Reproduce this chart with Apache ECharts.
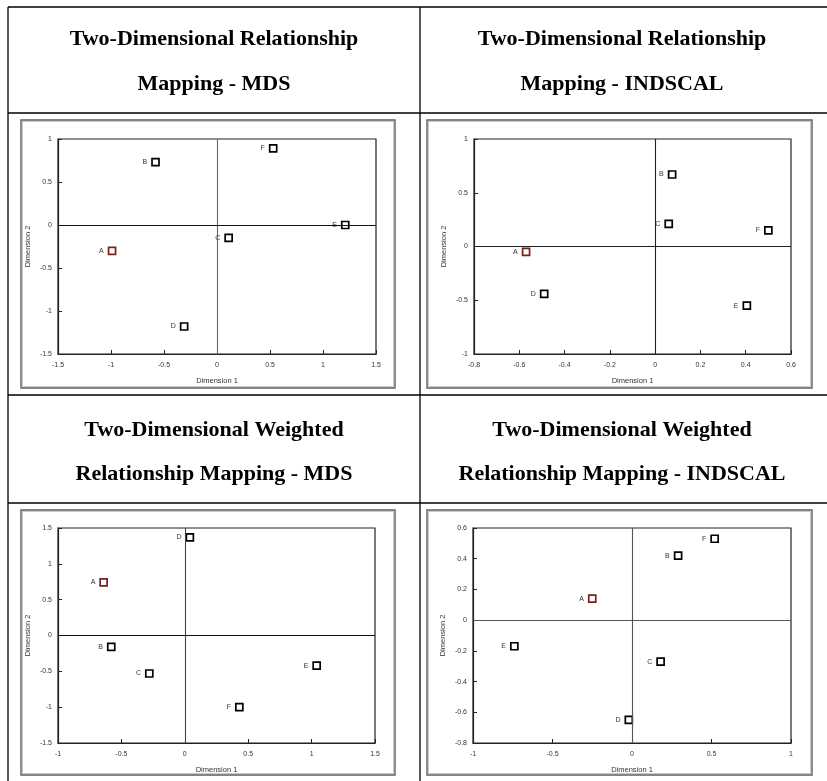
<!DOCTYPE html>
<html>
<head>
<meta charset="utf-8">
<script src="https://cdn.jsdelivr.net/npm/echarts@6/dist/echarts.min.js"></script>
<style>
  html, body { margin: 0; padding: 0; background: #fff; }
  #chart { width: 827px; height: 781px; }
</style>
</head>
<body>
<div id="chart"></div>
<script>
///////////////////////////////////////////////////
// Used data
///////////////////////////////////////////////////

var pointNames = ['A', 'B', 'C', 'D', 'E', 'F'];

// Two-Dimensional Relationship Mapping - MDS
var mdsX = [-0.99, -0.58, 0.11, -0.31, 1.21, 0.53];
var mdsY = [-0.30, 0.73, -0.15, -1.18, 0.00, 0.89];

// Two-Dimensional Relationship Mapping - INDSCAL
var indscalX = [-0.57, 0.075, 0.06, -0.49, 0.405, 0.50];
var indscalY = [-0.05, 0.67, 0.21, -0.44, -0.55, 0.15];

// Two-Dimensional Weighted Relationship Mapping - MDS
var weightedMdsX = [-0.64, -0.58, -0.28, 0.04, 1.04, 0.43];
var weightedMdsY = [0.74, -0.16, -0.53, 1.37, -0.42, -1.00];

// Two-Dimensional Weighted Relationship Mapping - INDSCAL
var weightedIndscalX = [-0.25, 0.29, 0.18, -0.02, -0.74, 0.52];
var weightedIndscalY = [0.14, 0.42, -0.27, -0.65, -0.17, 0.53];

var headerLines = [
  ['Two-Dimensional Relationship', 'Mapping - MDS'],
  ['Two-Dimensional Relationship', 'Mapping - INDSCAL'],
  ['Two-Dimensional Weighted', 'Relationship Mapping - MDS'],
  ['Two-Dimensional Weighted', 'Relationship Mapping - INDSCAL'],
];

// axis ranges: [min, max, interval]
var xRanges = [[-1.5, 1.5, 0.5], [-0.8, 0.6, 0.2], [-1, 1.5, 0.5], [-1, 1, 0.5]];
var yRanges = [[-1.5, 1, 0.5], [-1, 1, 0.5], [-1.5, 1.5, 0.5], [-0.8, 0.6, 0.2]];

var xAxisTitle = 'Dimension 1';
var yAxisTitle = 'Dimension 2';

///////////////////////////////////////////////////
// Layout
///////////////////////////////////////////////////

var plots = [
  { left: 58, top: 139, width: 318, height: 215 },
  { left: 474, top: 139, width: 317, height: 215 },
  { left: 58, top: 528, width: 317, height: 215 },
  { left: 473, top: 528, width: 318, height: 215 },
];
var frames = [
  { x: 21, y: 120, width: 374, height: 268 },
  { x: 427, y: 120, width: 385, height: 268 },
  { x: 21, y: 510, width: 374, height: 265 },
  { x: 427, y: 510, width: 385, height: 265 },
];
var headerPos = [
  { x: 214, y1: 39, y2: 84 },
  { x: 622, y1: 39, y2: 84 },
  { x: 214, y1: 430, y2: 474 },
  { x: 622, y1: 430, y2: 474 },
];
// colours of the zero lines: [vertical, horizontal]
var zeroLineColors = [['#666', '#111'], ['#222', '#222'], ['#444', '#111'], ['#555', '#555']];

var tableLines = [
  [8, 7, 827, 7],
  [8, 113, 827, 113],
  [8, 395, 827, 395],
  [8, 503, 827, 503],
  [8, 7, 8, 781],
  [420, 7, 420, 781],
];

var labelFont = 'Liberation Sans';

function buildPoints(xs, ys) {
  return xs.map(function (x, i) {
    var item = { name: pointNames[i], value: [x, ys[i]] };
    if (pointNames[i] === 'A') {
      item.itemStyle = { borderColor: '#7a1e1e' };
    }
    return item;
  });
}

var seriesData = [
  buildPoints(mdsX, mdsY),
  buildPoints(indscalX, indscalY),
  buildPoints(weightedMdsX, weightedMdsY),
  buildPoints(weightedIndscalX, weightedIndscalY),
];

var graphics = [];
tableLines.forEach(function (l) {
  graphics.push({
    type: 'line',
    shape: { x1: l[0], y1: l[1], x2: l[2], y2: l[3] },
    style: { stroke: '#000', lineWidth: 1.3 },
  });
});
frames.forEach(function (f) {
  // light inner edge + darker outer edge, like the embedded picture border
  graphics.push({
    type: 'rect',
    shape: { x: f.x + 1.5, y: f.y + 1.5, width: f.width - 3, height: f.height - 3 },
    style: { fill: 'none', stroke: '#c8c8c8', lineWidth: 1 },
  });
  graphics.push({
    type: 'rect',
    shape: f,
    style: { fill: 'none', stroke: '#5e5e5e', lineWidth: 1.4 },
  });
});
headerLines.forEach(function (lines, i) {
  var p = headerPos[i];
  [p.y1, p.y2].forEach(function (y, k) {
    graphics.push({
      type: 'text',
      style: {
        text: lines[k],
        x: p.x,
        y: y,
        align: 'center',
        verticalAlign: 'middle',
        font: 'bold 22px "Liberation Serif"',
        fill: '#000',
      },
    });
  });
});

var option = {
  animation: false,
  backgroundColor: '#fff',
  graphic: graphics,
  grid: plots.map(function (p) {
    return {
      left: p.left,
      top: p.top,
      width: p.width,
      height: p.height,
      show: true,
      borderColor: '#222',
      borderWidth: 1.2,
      backgroundColor: '#fff',
      containLabel: false,
      outerBoundsMode: 'none',
    };
  }),
  xAxis: xRanges.map(function (r, i) {
    return {
      type: 'value',
      gridIndex: i,
      min: r[0],
      max: r[1],
      interval: r[2],
      name: xAxisTitle,
      nameLocation: 'middle',
      nameGap: 23,
      nameTextStyle: { fontSize: 7.5, color: '#333', fontFamily: labelFont },
      axisLine: { show: true, onZero: false, lineStyle: { color: '#222', width: 1.2 } },
      axisTick: { show: true, inside: true, length: 4, lineStyle: { color: '#222' } },
      axisLabel: {
        fontSize: 7, color: '#333', fontFamily: labelFont, margin: 8,
        showMinLabel: true, showMaxLabel: true, hideOverlap: false,
      },
      splitLine: { show: false },
    };
  }),
  yAxis: yRanges.map(function (r, i) {
    return {
      type: 'value',
      gridIndex: i,
      min: r[0],
      max: r[1],
      interval: r[2],
      name: yAxisTitle,
      nameLocation: 'middle',
      nameGap: 26,
      nameTextStyle: { fontSize: 7.5, color: '#333', fontFamily: labelFont },
      axisLine: { show: true, onZero: false, lineStyle: { color: '#222', width: 1.2 } },
      axisTick: { show: true, inside: true, length: 4, lineStyle: { color: '#222' } },
      axisLabel: {
        fontSize: 7, color: '#333', fontFamily: labelFont, margin: 6,
        showMinLabel: true, showMaxLabel: true, hideOverlap: false,
      },
      splitLine: { show: false },
    };
  }),
  series: seriesData.map(function (data, i) {
    return {
      type: 'scatter',
      xAxisIndex: i,
      yAxisIndex: i,
      data: data,
      symbol: 'rect',
      symbolSize: 7,
      itemStyle: { color: '#fff', borderColor: '#000', borderWidth: 1.7, opacity: 1 },
      label: {
        show: true,
        position: 'left',
        distance: 4,
        formatter: '{b}',
        fontSize: 7,
        color: '#333',
        fontFamily: labelFont,
      },
      emphasis: { disabled: true },
      markLine: {
        silent: true,
        symbol: ['none', 'none'],
        label: { show: false },
        lineStyle: { type: 'solid', width: 1.1 },
        data: [
          { xAxis: 0, lineStyle: { color: zeroLineColors[i][0] } },
          { yAxis: 0, lineStyle: { color: zeroLineColors[i][1] } },
        ],
      },
    };
  }),
};

var myChart = echarts.init(document.getElementById('chart'), null, { renderer: 'canvas' });
myChart.setOption(option);
</script>
</body>
</html>
